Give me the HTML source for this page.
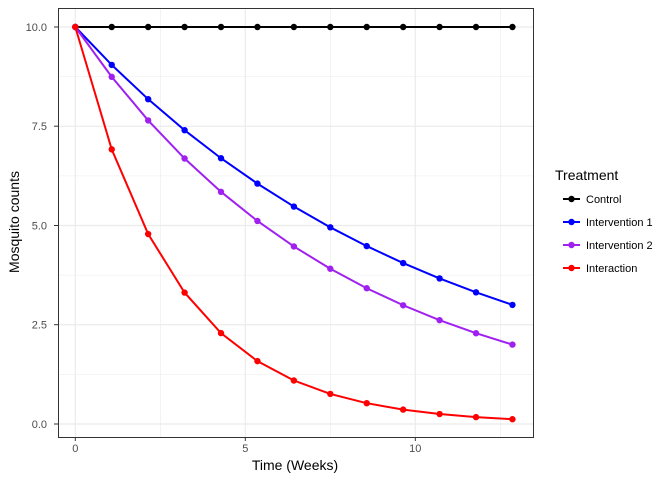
<!DOCTYPE html>
<html><head><meta charset="utf-8"><style>body{margin:0;background:#fff}svg{display:block;font-family:"Liberation Sans",sans-serif}</style></head>
<body>
<svg id="s" width="672" height="480" xmlns="http://www.w3.org/2000/svg">
<rect width="672" height="480" fill="#fff"/>
<g id="grid"></g>
<rect x="58.5" y="8.5" width="475" height="429" fill="none" stroke="#333" stroke-width="1"/>
<g id="series"></g>
<g font-size="11" fill="#4d4d4d" text-anchor="end">
<text x="47" y="428">0.0</text><text x="47" y="328.7">2.5</text><text x="47" y="229.5">5.0</text><text x="47" y="130.2">7.5</text><text x="47" y="31">10.0</text>
</g>
<g stroke="#333"><line x1="54" x2="58" y1="424" y2="424"/><line x1="54" x2="58" y1="324.7" y2="324.7"/><line x1="54" x2="58" y1="225.5" y2="225.5"/><line x1="54" x2="58" y1="126.2" y2="126.2"/><line x1="54" x2="58" y1="27" y2="27"/>
<line x1="75.3" x2="75.3" y1="437" y2="441"/><line x1="245.3" x2="245.3" y1="437" y2="441"/><line x1="415.3" x2="415.3" y1="437" y2="441"/></g>
<g font-size="11" fill="#4d4d4d" text-anchor="middle"><text x="75.3" y="452">0</text><text x="245.3" y="452">5</text><text x="415.3" y="452">10</text></g>
<text x="295" y="470" font-size="14" text-anchor="middle">Time (Weeks)</text>
<text transform="translate(19,222) rotate(-90)" font-size="14" text-anchor="middle">Mosquito counts</text>
<text x="555" y="180" font-size="14">Treatment</text>
<g id="leg"></g>
</svg>
<script>
var ns="http://www.w3.org/2000/svg";
function el(p,t,a){var e=document.createElementNS(ns,t);for(var k in a)e.setAttribute(k,a[k]);document.getElementById(p).appendChild(e);return e;}
function X(t){return 75.3+t*34;}function Y(v){return 424-v*39.7;}
[1.25,3.75,6.25,8.75].forEach(function(v){el("grid","line",{x1:58,x2:533,y1:Y(v),y2:Y(v),stroke:"#ebebeb","stroke-width":0.6});});
[2.5,7.5,12.5].forEach(function(v){el("grid","line",{y1:8,y2:437,x1:X(v),x2:X(v),stroke:"#ebebeb","stroke-width":0.6});});
[0,2.5,5,7.5,10].forEach(function(v){el("grid","line",{x1:58,x2:533,y1:Y(v),y2:Y(v),stroke:"#ebebeb","stroke-width":1.2});});
[0,5,10].forEach(function(v){el("grid","line",{y1:8,y2:437,x1:X(v),x2:X(v),stroke:"#ebebeb","stroke-width":1.2});});
var S=[["#000",1],["#0000ff",0.3],["#a020f0",0.2],["#ff0000",0.012]];
var names=["Control","Intervention 1","Intervention 2","Interaction"];
S.forEach(function(s,j){var pts=[];for(var i=0;i<=12;i++){var t=i*90/84,v=10*Math.pow(s[1],i/12);pts.push(X(t)+","+Y(v));}
el("series","polyline",{points:pts.join(" "),fill:"none",stroke:s[0],"stroke-width":2});
pts.forEach(function(p){var q=p.split(",");el("series","circle",{cx:q[0],cy:q[1],r:3.2,fill:s[0]});});
var ly=199+j*23;el("leg","line",{x1:563,x2:580,y1:ly,y2:ly,stroke:s[0],"stroke-width":2});
el("leg","circle",{cx:571.5,cy:ly,r:3.2,fill:s[0]});
var tx=el("leg","text",{x:586,y:ly+4,"font-size":11,fill:"#000"});tx.textContent=names[j];});
</script>
</body></html>
